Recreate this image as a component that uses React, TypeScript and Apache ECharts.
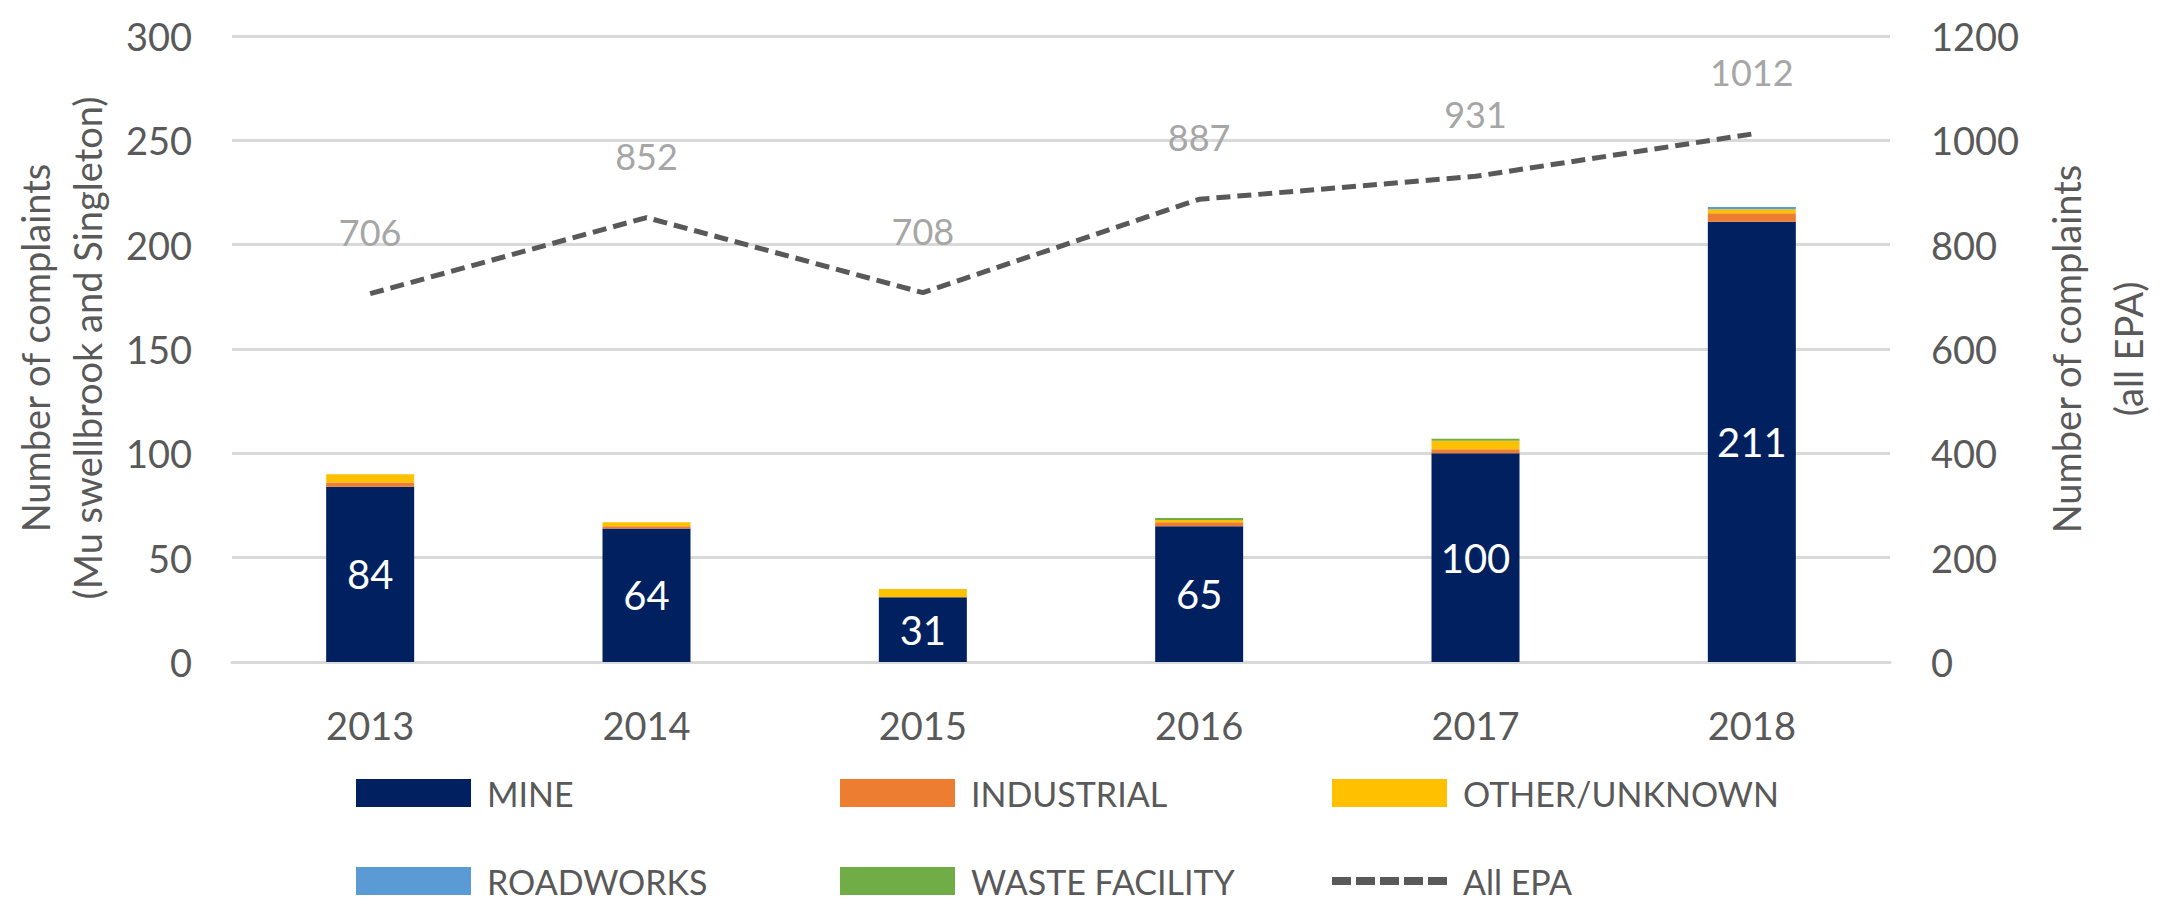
import React, { useEffect, useRef } from "react";
import * as echarts from "echarts";

const years = ["2013", "2014", "2015", "2016", "2017", "2018"];
const mine = [84, 64, 31, 65, 100, 211];
const industrial = [2, 1, 0, 2, 2, 4];
const otherUnknown = [4, 2, 4, 1, 4, 2];
const roadworks = [0, 0, 0, 0, 0, 1];
const wasteFacility = [0, 0, 0, 1, 1, 0];
const allEpa = [706, 852, 708, 887, 931, 1012];

const FONT = "Lato, 'Open Sans', sans-serif";
const AXIS_TEXT = "#595959";
const DASH_ICON =
  "path://M0,0h19v8h-19z M24,0h19v8h-19z M48,0h19v8h-19z M72,0h19v8h-19z M96,0h19v8h-19z";

export default function App() {
  const ref = useRef<HTMLDivElement>(null);
  useEffect(() => {
    document.body.style.margin = "0";
    const chart = echarts.init(ref.current!, null, { renderer: "svg" });
    const barSeries = (name: string, data: number[], color: string, label = false) => ({
      name,
      type: "bar",
      stack: "total",
      data,
      barWidth: 88,
      itemStyle: { color },
      label: label
        ? { show: true, position: "inside", color: "#ffffff", fontSize: 40, fontFamily: FONT }
        : { show: false },
    });
    const legendItem = (name: string, left: number, top: number, icon?: string) => ({
      left,
      top,
      padding: 0,
      data: [icon ? { name, icon } : { name, icon: "rect" }],
      itemWidth: 115,
      itemHeight: icon ? 8 : 28,
      textStyle: {
        color: AXIS_TEXT,
        fontSize: 34,
        fontFamily: FONT,
        lineHeight: 36,
        padding: [0, 0, 0, 11],
      },
    });
    chart.setOption({
      animation: false,
      textStyle: { fontFamily: FONT },
      grid: { left: 232, right: 281, top: 36, bottom: 244, containLabel: false },
      legend: [
        legendItem("MINE", 356, 775),
        legendItem("INDUSTRIAL", 840, 775),
        legendItem("OTHER/UNKNOWN", 1332, 775),
        legendItem("ROADWORKS", 356, 863),
        legendItem("WASTE FACILITY", 840, 863),
        legendItem("All EPA", 1332, 863, DASH_ICON),
      ],
      xAxis: {
        type: "category",
        data: years,
        axisLine: { show: true, lineStyle: { color: "#D9D9D9", width: 3 } },
        axisTick: { show: false },
        axisLabel: { color: AXIS_TEXT, fontSize: 38, margin: 44, fontFamily: FONT },
      },
      yAxis: [
        {
          type: "value",
          min: 0,
          max: 300,
          interval: 50,
          axisLine: { show: false },
          axisTick: { show: false },
          axisLabel: { color: AXIS_TEXT, fontSize: 38, margin: 40, fontFamily: FONT },
          splitLine: { lineStyle: { color: "#D9D9D9", width: 3 } },
        },
        {
          type: "value",
          min: 0,
          max: 1200,
          interval: 200,
          position: "right",
          axisLine: { show: false },
          axisTick: { show: false },
          axisLabel: {
            color: AXIS_TEXT,
            fontSize: 38,
            margin: 41,
            fontFamily: FONT,
            formatter: (v: number) => String(v),
          },
          splitLine: { show: false },
        },
      ],
      graphic: [
        {
          type: "text",
          x: 35,
          y: 348,
          rotation: Math.PI / 2,
          style: { text: "Number of complaints", fill: AXIS_TEXT, fontSize: 38, fontFamily: FONT, textAlign: "center", textVerticalAlign: "middle" },
        },
        {
          type: "text",
          x: 87,
          y: 348,
          rotation: Math.PI / 2,
          style: { text: "(Mu swellbrook and Singleton)", fill: AXIS_TEXT, fontSize: 38, fontFamily: FONT, textAlign: "center", textVerticalAlign: "middle" },
        },
        {
          type: "text",
          x: 2066,
          y: 349,
          rotation: Math.PI / 2,
          style: { text: "Number of complaints", fill: AXIS_TEXT, fontSize: 38, fontFamily: FONT, textAlign: "center", textVerticalAlign: "middle" },
        },
        {
          type: "text",
          x: 2128,
          y: 349,
          rotation: Math.PI / 2,
          style: { text: "(all EPA)", fill: AXIS_TEXT, fontSize: 38, fontFamily: FONT, textAlign: "center", textVerticalAlign: "middle" },
        },
      ],
      series: [
        barSeries("MINE", mine, "#002060", true),
        barSeries("INDUSTRIAL", industrial, "#ED7D31"),
        barSeries("OTHER/UNKNOWN", otherUnknown, "#FFC000"),
        barSeries("ROADWORKS", roadworks, "#5B9BD5"),
        barSeries("WASTE FACILITY", wasteFacility, "#70AD47"),
        {
          name: "All EPA",
          type: "line",
          yAxisIndex: 1,
          data: allEpa,
          symbol: "circle",
          symbolSize: 0,
          showSymbol: true,
          lineStyle: { color: "#595959", width: 5, type: [14, 7] },
          itemStyle: { color: "#595959" },
          label: { show: true, position: "top", distance: 44, color: "#A6A6A6", fontSize: 36, fontFamily: FONT },
        },
      ],
    });
    return () => chart.dispose();
  }, []);
  return <div ref={ref} style={{ width: 2171, height: 906 }} />;
}
